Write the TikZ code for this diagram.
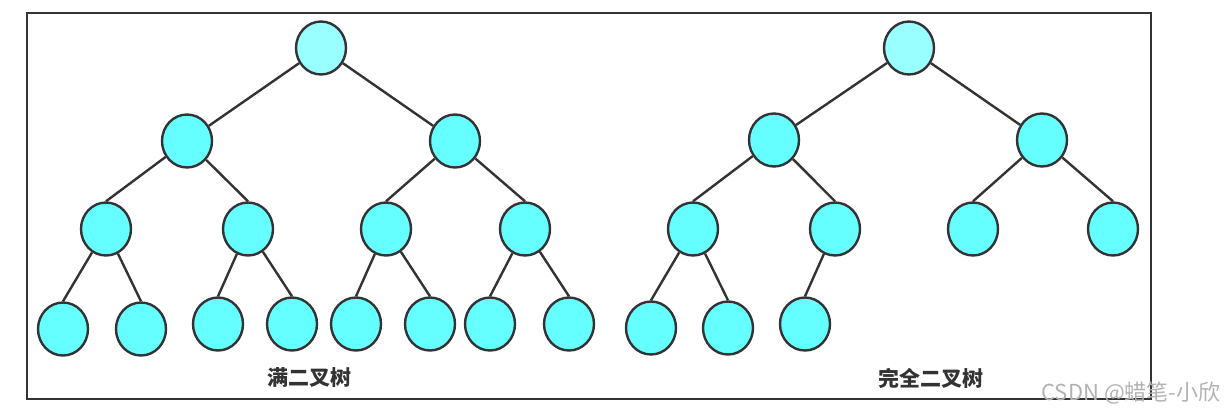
\documentclass[tikz,border=0pt]{standalone}
\usepackage{xcolor}
\usepackage{fontspec}
\usepackage{tikz}
\usetikzlibrary{shapes.geometric}
\newfontfamily\cjk{Noto Sans CJK SC}
\definecolor{treeline}{HTML}{333333}
\definecolor{rootfill}{HTML}{99FFFF}
\definecolor{nodefill}{HTML}{66FFFF}
\tikzset{
	bnode/.style={ellipse, draw=treeline, line width=2.4pt, fill=nodefill,
		inner sep=0pt, minimum width=50pt, minimum height=53pt},
	broot/.style={bnode, fill=rootfill},
	bedge/.style={draw=treeline, line width=2.4pt},
	blabel/.style={text=treeline, font=\cjk\bfseries\fontsize{21pt}{21pt}\selectfont}
}

\begin{document}
\begin{tikzpicture}[x=1pt, y=-1pt]
	\useasboundingbox (0,0) rectangle (1230,418);
	\draw[draw=treeline, line width=2.5pt]
		(27,13) rectangle (1151,399);
	% full binary tree
	\node[broot] (fr) at (321,48) {};
	\node[bnode] (fa) at (187,141) {};
	\node[bnode] (fb) at (455,141) {};
	\node[bnode] (faa) at (106,229) {};
	\node[bnode] (fab) at (248,229) {};
	\node[bnode] (fba) at (386,229) {};
	\node[bnode] (fbb) at (525,229) {};
	\node[bnode] (f1) at (63,329) {};
	\node[bnode] (f2) at (141,329) {};
	\node[bnode] (f3) at (218,324) {};
	\node[bnode] (f4) at (292,324) {};
	\node[bnode] (f5) at (356,324) {};
	\node[bnode] (f6) at (430,324) {};
	\node[bnode] (f7) at (490,324) {};
	\node[bnode] (f8) at (569,324) {};
	\draw[bedge]
		(fr) -- (fa) (fr) -- (fb)
		(fa) -- (faa.north) (fa) -- (fab.north) (fb) -- (fba.north) (fb) -- (fbb.north)
		(faa) -- (f1.north) (faa) -- (f2.north) (fab) -- (f3.north) (fab) -- (f4.north)
		(fba) -- (f5.north) (fba) -- (f6.north) (fbb) -- (f7.north) (fbb) -- (f8.north);
	% complete binary tree
	\node[broot] (cr) at (909,48) {};
	\node[bnode] (ca) at (774,140) {};
	\node[bnode] (cb) at (1042,140) {};
	\node[bnode] (caa) at (693,229) {};
	\node[bnode] (cab) at (835,229) {};
	\node[bnode] (cba) at (973,229) {};
	\node[bnode] (cbb) at (1113,229) {};
	\node[bnode] (c1) at (651,328) {};
	\node[bnode] (c2) at (728,328) {};
	\node[bnode] (c3) at (805,324) {};
	\draw[bedge]
		(cr) -- (ca) (cr) -- (cb)
		(ca) -- (caa.north) (ca) -- (cab.north) (cb) -- (cba.north) (cb) -- (cbb.north)
		(caa) -- (c1.north) (caa) -- (c2.north) (cab) -- (c3.north);
	% captions
	\node[blabel] (fname) at (309,378) {满二叉树};
	\node[blabel] (cname) at (931,378) {完全二叉树};
	\node[text=black!30, font=\cjk\fontsize{22pt}{22pt}\selectfont] (mark) at (1131,393) {CSDN @蜡笔-小欣};
\end{tikzpicture}
\end{document}
